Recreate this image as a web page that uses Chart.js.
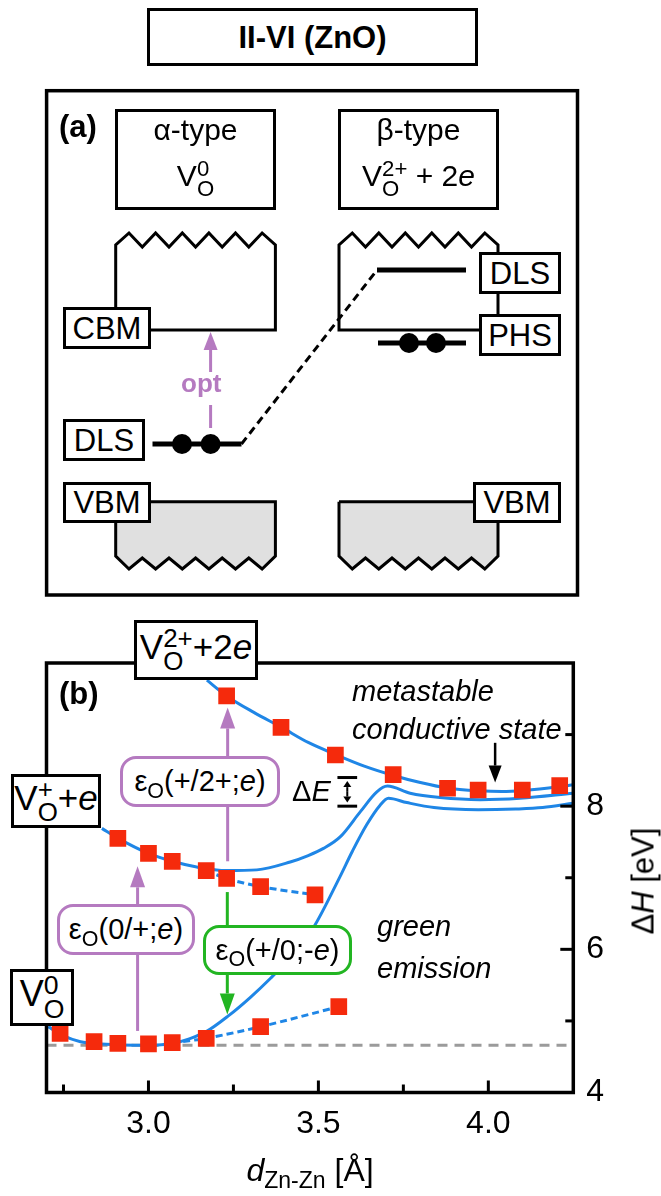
<!DOCTYPE html>
<html><head><meta charset="utf-8"><title>II-VI (ZnO)</title>
<script src="https://cdn.jsdelivr.net/npm/chart.js@4.4.1/dist/chart.umd.min.js"></script>
<style>
html,body{margin:0;padding:0;background:#fff}
#fig{position:relative;width:661px;height:1196px;overflow:hidden;background:#fff;font-family:"Liberation Sans",Arial,Helvetica,sans-serif;color:#000}
canvas{position:absolute;left:0}
#ca{top:80px}
#cb{top:600px}
.t{position:absolute;line-height:1;white-space:nowrap}
.bx{position:absolute;box-sizing:border-box;border:3px solid #000;background:#fff;display:flex;align-items:center;justify-content:center;white-space:nowrap;line-height:1}
.rb{border-radius:16px;border-color:#b57ac0}
.gb{border-radius:16px;border-color:#22b522}
.st{display:inline-flex;flex-direction:column;font-size:0.74em;line-height:0.9;vertical-align:0.45em;text-align:left}
.sb{font-size:0.74em;position:relative;top:0.32em}
.b{font-weight:bold}
.ln{position:absolute;left:0;right:0;text-align:center;line-height:1;white-space:nowrap}
</style></head>
<body><div id="fig">
<canvas id="ca" width="661" height="530"></canvas>
<canvas id="cb" width="661" height="596"></canvas>

<!-- title -->
<div class="bx b" style="left:147px;top:8px;width:331px;height:58px;font-size:31px">II-VI (ZnO)</div>

<!-- panel (a) texts -->
<div class="t b" style="left:59px;top:111px;font-size:31px">(a)</div>
<div class="bx" style="left:115px;top:109px;width:161px;height:101px;display:block">
  <div class="ln" style="top:3px;font-size:30px">α-type</div>
  <div class="ln" style="top:47px;font-size:30px"><span>V<span class="st"><span>0</span><span>O</span></span></span></div>
</div>
<div class="bx" style="left:338px;top:109px;width:161px;height:101px;display:block">
  <div class="ln" style="top:3px;font-size:30px">β-type</div>
  <div class="ln" style="top:47px;font-size:30px"><span>V<span class="st"><span>2+</span><span>O</span></span> + 2<i>e</i></span></div>
</div>
<div class="bx" style="left:63px;top:307px;width:88px;height:42px;font-size:31px">CBM</div>
<div class="bx" style="left:63px;top:419px;width:82px;height:42px;font-size:31px">DLS</div>
<div class="bx" style="left:63px;top:482px;width:88px;height:41px;font-size:31px">VBM</div>
<div class="bx" style="left:479px;top:252px;width:82px;height:42px;font-size:31px">DLS</div>
<div class="bx" style="left:479px;top:314px;width:82px;height:42px;font-size:31px">PHS</div>
<div class="bx" style="left:473px;top:482px;width:88px;height:41px;font-size:31px">VBM</div>
<div class="t b" style="left:181px;top:370px;font-size:26px;color:#b57ac0">opt</div>

<!-- panel (b) texts -->
<div class="t b" style="left:59px;top:678px;font-size:31px">(b)</div>
<div class="bx" style="left:134px;top:620px;width:124px;height:60px;font-size:35px"><span>V<span class="st"><span>2+</span><span>O</span></span>+2<i>e</i></span></div>
<div class="bx" style="left:11px;top:774px;width:90px;height:54px;font-size:35px"><span>V<span class="st"><span>+</span><span>O</span></span>+<i>e</i></span></div>
<div class="bx" style="left:10px;top:969px;width:64px;height:57px;font-size:36px"><span>V<span class="st"><span>0</span><span>O</span></span></span></div>
<div class="bx rb" style="left:120px;top:756px;width:160px;height:51px;font-size:29px"><span>ε<span class="sb">O</span>(+/2+;<i>e</i>)</span></div>
<div class="bx rb" style="left:57px;top:904px;width:138px;height:51px;font-size:29px"><span>ε<span class="sb">O</span>(0/+;<i>e</i>)</span></div>
<div class="bx gb" style="left:203px;top:925px;width:149px;height:50px;font-size:29px"><span>ε<span class="sb">O</span>(+/0;-<i>e</i>)</span></div>
<div class="t" style="left:352px;top:677px;font-size:29px;font-style:italic">metastable</div>
<div class="t" style="left:352px;top:715px;font-size:29px;font-style:italic">conductive state</div>
<div class="t" style="left:292px;top:777px;font-size:29px">Δ<i>E</i></div>
<div class="t" style="left:377px;top:912px;font-size:29px;font-style:italic">green</div>
<div class="t" style="left:377px;top:954px;font-size:29px;font-style:italic">emission</div>

<!-- axis titles -->
<div class="t" style="left:310px;top:1154px;font-size:32px;transform:translateX(-50%)"><i>d</i><span style="font-size:0.72em;position:relative;top:0.3em">Zn-Zn</span> [Å]</div>
<div class="t" style="left:643px;top:881px;font-size:31px;transform:translate(-50%,-50%) rotate(-90deg)">Δ<i>H</i> [eV]</div>
</div>

<script>
// ================= Panel (b): data =================
// x: Zn–Zn distance d [Å], y: formation enthalpy ΔH [eV]
const xTickLabels = ['3.0', '3.5', '4.0'];
const yTickLabels = ['4', '6', '8'];

// solid fitted curves
const curveV2p_d = [3.172, 3.23, 3.31, 3.392, 3.47, 3.554, 3.635, 3.716, 3.80, 3.877, 3.973, 4.04, 4.105, 4.206, 4.25];
const curveV2p_H = [9.76, 9.54, 9.31, 9.10, 8.89, 8.715, 8.56, 8.436, 8.33, 8.255, 8.215, 8.205, 8.22, 8.27, 8.30];
const curveVp_d = [2.863, 2.911, 3.0, 3.07, 3.142, 3.23, 3.319, 3.417, 3.47, 3.515, 3.564, 3.623, 3.672, 3.703, 3.77, 3.858, 3.976, 4.093, 4.25];
const curveVp_H = [7.69, 7.55, 7.34, 7.23, 7.15, 7.10, 7.11, 7.22, 7.31, 7.41, 7.57, 7.92, 8.20, 8.28, 8.18, 8.12, 8.09, 8.11, 8.18];
const curveV0_d = [2.705, 2.75, 2.80, 2.85, 2.92, 3.00, 3.07, 3.12, 3.17, 3.235, 3.30, 3.36, 3.42, 3.485, 3.564, 3.60, 3.642, 3.681, 3.706, 3.76, 3.84, 3.97, 4.08, 4.16, 4.25];
const curveV0_H = [4.92, 4.79, 4.71, 4.68, 4.665, 4.66, 4.685, 4.75, 4.85, 5.07, 5.33, 5.60, 5.90, 6.30, 7.02, 7.37, 7.74, 8.01, 8.11, 8.05, 7.98, 7.95, 7.96, 7.98, 8.04];

// dashed continuations
const dashVp_d = [3.17, 3.23, 3.33, 3.49];
const dashVp_H = [7.10, 6.99, 6.875, 6.76];
const dashV0_d = [3.07, 3.17, 3.33, 3.56];
const dashV0_H = [4.696, 4.757, 4.919, 5.199];

// calculated points (red squares)
const sqV2p_d = [3.23, 3.39, 3.55, 3.72, 3.88, 3.97, 4.10, 4.21];
const sqV2p_H = [9.54, 9.10, 8.715, 8.44, 8.25, 8.226, 8.226, 8.286];
const sqVp_d = [2.91, 3.00, 3.07, 3.17, 3.23, 3.33, 3.49];
const sqVp_H = [7.55, 7.34, 7.23, 7.10, 6.99, 6.875, 6.76];
const sqV0_d = [2.74, 2.84, 2.91, 3.00, 3.07, 3.17, 3.33, 3.56];
const sqV0_H = [4.827, 4.71, 4.687, 4.678, 4.696, 4.757, 4.919, 5.199];

// ground-state reference level
const refLevel_d = [2.70, 4.25];
const refLevel_H = [4.66, 4.66];

// vertical transitions: d, start ΔH, end ΔH
const transOpt0p_d = 2.968, transOpt0p_H = [4.86, 7.16];
const transOptP2p_d = 3.233, transOptP2p_H = [7.23, 9.38];
const transEmit_d = 3.232, transEmit_H = [6.80, 5.09];
const metastable_d = 4.02, metastable_H = [8.885, 8.33];
const deltaE_d = [3.556, 3.614], deltaE_H = [8.0, 8.40];

// ================= Panel (a): schematic (figure units) =================
const cbAlpha = [[115.7,310],[115.7,245],[129,233],[142.3,247],[155.6,233],[169,247],[182.3,233],[195.6,247],[208.9,233],[222.2,247],[235.5,233],[248.8,247],[262.1,233],[275.4,245],[275.4,330],[148,330]];
const cbBeta = [[482,330],[339,330],[339,245],[352.3,233],[365.5,247],[378.8,233],[392,247],[405.3,233],[418.5,247],[431.8,233],[445,247],[458.3,233],[471.5,247],[484.8,233],[498,245],[498,318]];
const vbAlpha = [[115.7,501.7],[275.4,501.7],[275.4,556],[262.1,569],[248.8,558],[235.5,569],[222.2,558],[208.9,569],[195.6,558],[182.3,569],[169,558],[155.6,569],[142.3,558],[129,569],[115.7,556],[115.7,501.7]];
const vbBeta = [[339,501.7],[498,501.7],[498,556],[484.8,569],[471.5,558],[458.3,569],[445,558],[431.8,569],[418.5,558],[405.3,569],[392,558],[378.8,569],[365.5,558],[352.3,569],[339,556],[339,501.7]];
const dlsAlpha = [[152.5,444],[241.5,444]];
const dlsBeta = [[377,270],[466,270]];
const phsBeta = [[378,343],[466,343]];
const relaxPath = [[241.5,444],[377,270]];
const electrons = [[182,444],[210.6,444],[409,343],[436,343]];
const optLower = [[210.6,428],[210.6,405]];
const optUpper = [[210.6,372],[210.6,332]];

// ================= helpers =================
const FONT = '"Liberation Sans", Arial, Helvetica, sans-serif';
const BLUE = '#1f86e6', RED = '#f52a0c', PURPLE = '#b57ac0', GREEN = '#22b522', GREY = '#9b9b9b';
const pts = (xs, ys) => xs.map((x, i) => ({x, y: ys[i]}));
const pp = arr => arr.map(p => ({x: p[0], y: p[1]}));

function drawArrow(chart, x1v, y1v, x2v, y2v, color, lw, head, hw) {
  const ctx = chart.ctx, xs = chart.scales.x, ys = chart.scales.y;
  const x1 = xs.getPixelForValue(x1v), y1 = ys.getPixelForValue(y1v);
  const x2 = xs.getPixelForValue(x2v), y2 = ys.getPixelForValue(y2v);
  const a = Math.atan2(y2 - y1, x2 - x1);
  const bx = x2 - head * Math.cos(a), by = y2 - head * Math.sin(a);
  ctx.save();
  ctx.strokeStyle = color; ctx.fillStyle = color; ctx.lineWidth = lw; ctx.lineCap = 'butt';
  ctx.beginPath(); ctx.moveTo(x1, y1); ctx.lineTo(bx, by); ctx.stroke();
  ctx.beginPath(); ctx.moveTo(x2, y2);
  ctx.lineTo(bx + hw * Math.sin(a), by - hw * Math.cos(a));
  ctx.lineTo(bx - hw * Math.sin(a), by + hw * Math.cos(a));
  ctx.closePath(); ctx.fill();
  ctx.restore();
}

// ================= Panel (a) chart =================
const lineDs = (data, extra) => Object.assign({data: pp(data), showLine: true, pointRadius: 0, borderColor: '#000', borderWidth: 3, tension: 0, fill: false, clip: false, order: 3}, extra || {});

const schematicPlugin = {
  id: 'schematic',
  afterDatasetsDraw(chart) {
    drawArrow(chart, optUpper[0][0], optUpper[0][1], optUpper[1][0], optUpper[1][1], PURPLE, 3, 18, 7);
    const {ctx, chartArea: a} = chart;
    ctx.save(); ctx.strokeStyle = '#000'; ctx.lineWidth = 3.5;
    ctx.strokeRect(a.left, a.top, a.width, a.height); ctx.restore();
  }
};

new Chart(document.getElementById('ca'), {
  type: 'scatter',
  data: {datasets: [
    lineDs(vbAlpha, {fill: 'shape', backgroundColor: '#e0e0e0', order: 9}),
    lineDs(vbBeta, {fill: 'shape', backgroundColor: '#e0e0e0', order: 9}),
    lineDs(cbAlpha), lineDs(cbBeta),
    lineDs(relaxPath, {borderDash: [8, 5]}),
    lineDs(dlsAlpha, {borderWidth: 5}), lineDs(dlsBeta, {borderWidth: 5}), lineDs(phsBeta, {borderWidth: 5}),
    lineDs(optLower, {borderColor: PURPLE}),
    {data: pp(electrons), showLine: false, pointStyle: 'circle', pointRadius: 10, backgroundColor: '#000', borderWidth: 0, clip: false, order: 0}
  ]},
  options: {
    responsive: false, animation: false, events: [],
    layout: {padding: {left: 46.6, right: 83.5, top: 10.7, bottom: 15}},
    plugins: {legend: {display: false}, tooltip: {enabled: false}},
    scales: {
      x: {type: 'linear', display: false, min: 46.6, max: 577.5},
      y: {type: 'linear', display: false, min: 90.7, max: 595, reverse: true}
    }
  },
  plugins: [schematicPlugin]
});

// ================= Panel (b) chart =================
const annotPlugin = {
  id: 'annot',
  beforeDatasetsDraw(chart) {
    drawArrow(chart, transOpt0p_d, transOpt0p_H[0], transOpt0p_d, transOpt0p_H[1], PURPLE, 3, 21, 7.5);
    drawArrow(chart, transOptP2p_d, transOptP2p_H[0], transOptP2p_d, transOptP2p_H[1], PURPLE, 3, 21, 7.5);
    drawArrow(chart, transEmit_d, transEmit_H[0], transEmit_d, transEmit_H[1], GREEN, 3, 21, 7.5);
  },
  afterDatasetsDraw(chart) {
    const {ctx, chartArea: a, scales: {x, y}} = chart;
    drawArrow(chart, metastable_d, metastable_H[0], metastable_d, metastable_H[1], '#000', 2.5, 17, 6.5);
    // ΔE marker
    ctx.save(); ctx.strokeStyle = '#000'; ctx.lineWidth = 3;
    const xl = x.getPixelForValue(deltaE_d[0]), xr = x.getPixelForValue(deltaE_d[1]);
    deltaE_H.forEach(h => { const py = y.getPixelForValue(h); ctx.beginPath(); ctx.moveTo(xl, py); ctx.lineTo(xr, py); ctx.stroke(); });
    ctx.restore();
    const xm = (deltaE_d[0] + deltaE_d[1]) / 2;
    const hm = (deltaE_H[0] + deltaE_H[1]) / 2;
    drawArrow(chart, xm, hm, xm, deltaE_H[1] - 0.05, '#000', 2, 6, 4);
    drawArrow(chart, xm, hm, xm, deltaE_H[0] + 0.05, '#000', 2, 6, 4);
    // inward tick marks
    ctx.save(); ctx.strokeStyle = '#000'; ctx.lineWidth = 3;
    x.ticks.forEach(t => {
      const px = x.getPixelForValue(t.value);
      if (px < a.left + 3 || px > a.right - 3) return;
      const major = Math.abs(t.value * 2 - Math.round(t.value * 2)) < 1e-6;
      ctx.beginPath(); ctx.moveTo(px, a.bottom); ctx.lineTo(px, a.bottom - (major ? 12 : 8)); ctx.stroke();
    });
    y.ticks.forEach(t => {
      const py = y.getPixelForValue(t.value);
      if (py < a.top + 3 || py > a.bottom - 3) return;
      const major = Math.round(t.value) % 2 === 0;
      ctx.beginPath(); ctx.moveTo(a.right, py); ctx.lineTo(a.right - (major ? 13 : 8), py); ctx.stroke();
    });
    ctx.lineWidth = 3.5;
    ctx.strokeRect(a.left, a.top, a.width, a.height);
    ctx.restore();
  }
};

const curve = (xs, ys, extra) => Object.assign({data: pts(xs, ys), showLine: true, pointRadius: 0, borderColor: BLUE, borderWidth: 3, cubicInterpolationMode: 'monotone', fill: false, order: 5}, extra || {});
const squares = (xs, ys) => ({data: pts(xs, ys), showLine: false, pointStyle: 'rect', pointRadius: 11.8, backgroundColor: RED, borderWidth: 0, order: 0});

new Chart(document.getElementById('cb'), {
  type: 'scatter',
  data: {datasets: [
    curve(refLevel_d, refLevel_H, {borderColor: GREY, borderDash: [10, 7], cubicInterpolationMode: 'default', tension: 0, order: 10}),
    curve(curveV2p_d, curveV2p_H),
    curve(curveVp_d, curveVp_H),
    curve(curveV0_d, curveV0_H),
    curve(dashVp_d, dashVp_H, {borderDash: [7, 4], cubicInterpolationMode: 'default', tension: 0.3}),
    curve(dashV0_d, dashV0_H, {borderDash: [7, 4], cubicInterpolationMode: 'default', tension: 0.3}),
    squares(sqV2p_d, sqV2p_H),
    squares(sqVp_d, sqVp_H),
    squares(sqV0_d, sqV0_H)
  ]},
  options: {
    responsive: false, animation: false, events: [],
    layout: {padding: {left: 46.5, right: 0, top: 63, bottom: 0}},
    plugins: {legend: {display: false}, tooltip: {enabled: false}},
    scales: {
      x: {
        type: 'linear', position: 'bottom', min: 2.70, max: 4.25,
        grid: {display: false, drawTicks: false}, border: {display: false},
        ticks: {stepSize: 0.25, includeBounds: false, autoSkip: false, maxRotation: 0, padding: 12, color: '#000',
          font: {family: FONT, size: 32},
          callback: v => { const s = v.toFixed(1); return (Math.abs(v * 2 - Math.round(v * 2)) < 1e-6 && xTickLabels.includes(s)) ? s : ''; }},
        afterFit: s => { s.height = 103.5; }
      },
      y: {
        type: 'linear', position: 'right', min: 4, max: 10,
        grid: {display: false, drawTicks: false}, border: {display: false},
        ticks: {stepSize: 1, includeBounds: false, autoSkip: false, padding: 13, color: '#000',
          font: {family: FONT, size: 32},
          callback: v => yTickLabels.includes(String(v)) ? String(v) : ''},
        afterFit: s => { s.width = 87.7; }
      }
    }
  },
  plugins: [annotPlugin]
});
</script>
</body></html>
